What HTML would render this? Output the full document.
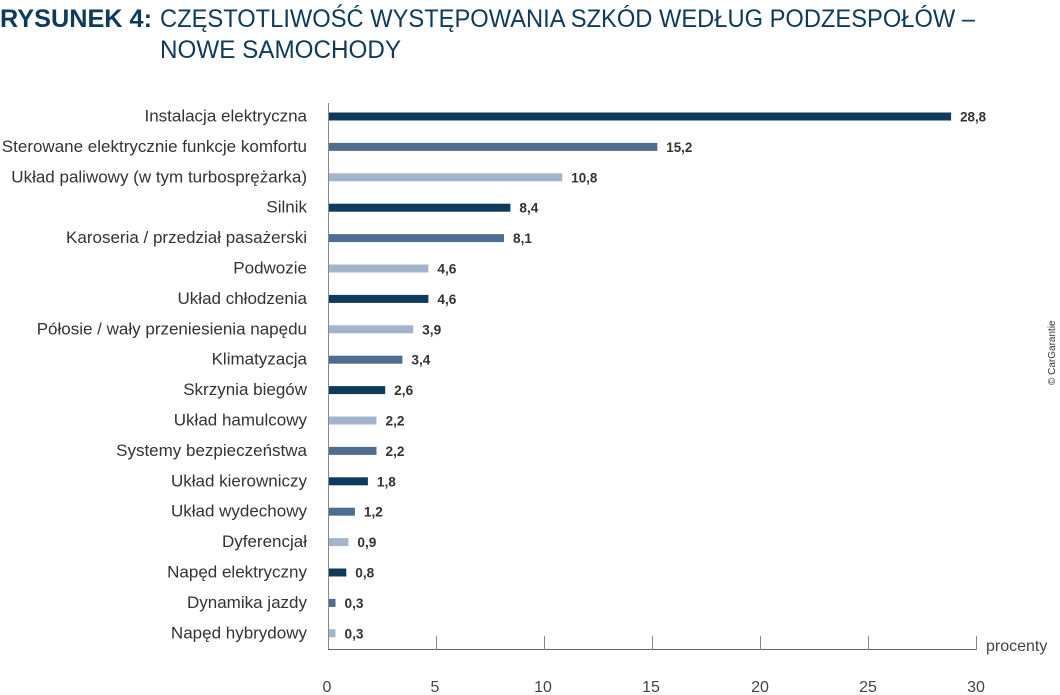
<!DOCTYPE html>
<html><head><meta charset="utf-8"><style>
html,body{margin:0;padding:0;background:#fff;}
svg{display:block;}
</style></head><body>
<svg width="1060" height="695" xmlns="http://www.w3.org/2000/svg" font-family="Liberation Sans, sans-serif">
<text x="0" y="27" font-size="25" font-weight="bold" fill="#0e3a5c" textLength="152" lengthAdjust="spacingAndGlyphs">RYSUNEK 4:</text>
<text x="160" y="27" font-size="25" fill="#0e3a5c" textLength="815" lengthAdjust="spacingAndGlyphs">CZĘSTOTLIWOŚĆ WYSTĘPOWANIA SZKÓD WEDŁUG PODZESPOŁÓW –</text>
<text x="160" y="58" font-size="25" fill="#0e3a5c" textLength="241" lengthAdjust="spacingAndGlyphs">NOWE SAMOCHODY</text>
<line x1="328.5" y1="103" x2="328.5" y2="650" stroke="#888" stroke-width="1"/>
<line x1="328" y1="649.5" x2="976" y2="649.5" stroke="#666" stroke-width="1"/>
<g stroke="#888" stroke-width="1">
<line x1="436.5" y1="636" x2="436.5" y2="650"/><line x1="544.5" y1="636" x2="544.5" y2="650"/>
<line x1="652.5" y1="636" x2="652.5" y2="650"/><line x1="760.5" y1="636" x2="760.5" y2="650"/>
<line x1="868.5" y1="636" x2="868.5" y2="650"/><line x1="976.5" y1="636" x2="976.5" y2="650"/>
</g>
<g font-size="16" fill="#444" text-anchor="middle">
<text x="327" y="692">0</text><text x="435" y="692">5</text><text x="543" y="692">10</text>
<text x="651" y="692">15</text><text x="760" y="692">20</text><text x="868" y="692">25</text><text x="976" y="692">30</text>
</g>
<text x="986" y="651" font-size="16" fill="#444">procenty</text>
<text transform="translate(1055,385) rotate(-90)" font-size="10" fill="#333">© CarGarantie</text>

<g font-size="17" fill="#333" text-anchor="end">
<text x="307" y="121.5">Instalacja elektryczna</text>
<text x="307" y="151.9">Sterowane elektrycznie funkcje komfortu</text>
<text x="307" y="182.3">Układ paliwowy (w tym turbosprężarka)</text>
<text x="307" y="212.7">Silnik</text>
<text x="307" y="243.1">Karoseria / przedział pasażerski</text>
<text x="307" y="273.5">Podwozie</text>
<text x="307" y="303.9">Układ chłodzenia</text>
<text x="307" y="334.3">Półosie / wały przeniesienia napędu</text>
<text x="307" y="364.7">Klimatyzacja</text>
<text x="307" y="395.1">Skrzynia biegów</text>
<text x="307" y="425.5">Układ hamulcowy</text>
<text x="307" y="455.9">Systemy bezpieczeństwa</text>
<text x="307" y="486.3">Układ kierowniczy</text>
<text x="307" y="516.7">Układ wydechowy</text>
<text x="307" y="547.1">Dyferencjał</text>
<text x="307" y="577.5">Napęd elektryczny</text>
<text x="307" y="607.9">Dynamika jazdy</text>
<text x="307" y="638.3">Napęd hybrydowy</text>
</g>

<rect x="329" y="112.5" width="622.1" height="8" fill="#0e3a5c"/>
<rect x="329" y="142.9" width="328.3" height="8" fill="#4d6e91"/>
<rect x="329" y="173.3" width="233.3" height="8" fill="#a3b4cb"/>
<rect x="329" y="203.7" width="181.4" height="8" fill="#0e3a5c"/>
<rect x="329" y="234.1" width="175.0" height="8" fill="#4d6e91"/>
<rect x="329" y="264.5" width="99.4" height="8" fill="#a3b4cb"/>
<rect x="329" y="294.9" width="99.4" height="8" fill="#0e3a5c"/>
<rect x="329" y="325.3" width="84.2" height="8" fill="#a3b4cb"/>
<rect x="329" y="355.7" width="73.4" height="8" fill="#4d6e91"/>
<rect x="329" y="386.1" width="56.2" height="8" fill="#0e3a5c"/>
<rect x="329" y="416.5" width="47.5" height="8" fill="#a3b4cb"/>
<rect x="329" y="446.9" width="47.5" height="8" fill="#4d6e91"/>
<rect x="329" y="477.3" width="38.9" height="8" fill="#0e3a5c"/>
<rect x="329" y="507.7" width="25.9" height="8" fill="#4d6e91"/>
<rect x="329" y="538.1" width="19.4" height="8" fill="#a3b4cb"/>
<rect x="329" y="568.5" width="17.3" height="8" fill="#0e3a5c"/>
<rect x="329" y="598.9" width="6.5" height="8" fill="#4d6e91"/>
<rect x="329" y="629.3" width="6.5" height="8" fill="#a3b4cb"/>

<g font-size="13.5" font-weight="bold" fill="#333">
<text x="960.1" y="121.5" textLength="26" lengthAdjust="spacingAndGlyphs">28,8</text>
<text x="666.3" y="151.9" textLength="26" lengthAdjust="spacingAndGlyphs">15,2</text>
<text x="571.3" y="182.3" textLength="26" lengthAdjust="spacingAndGlyphs">10,8</text>
<text x="519.4" y="212.7" textLength="19" lengthAdjust="spacingAndGlyphs">8,4</text>
<text x="513" y="243.1" textLength="19" lengthAdjust="spacingAndGlyphs">8,1</text>
<text x="437.4" y="273.5" textLength="19" lengthAdjust="spacingAndGlyphs">4,6</text>
<text x="437.4" y="303.9" textLength="19" lengthAdjust="spacingAndGlyphs">4,6</text>
<text x="422.2" y="334.3" textLength="19" lengthAdjust="spacingAndGlyphs">3,9</text>
<text x="411.4" y="364.7" textLength="19" lengthAdjust="spacingAndGlyphs">3,4</text>
<text x="394.2" y="395.1" textLength="19" lengthAdjust="spacingAndGlyphs">2,6</text>
<text x="385.5" y="425.5" textLength="19" lengthAdjust="spacingAndGlyphs">2,2</text>
<text x="385.5" y="455.9" textLength="19" lengthAdjust="spacingAndGlyphs">2,2</text>
<text x="376.9" y="486.3" textLength="19" lengthAdjust="spacingAndGlyphs">1,8</text>
<text x="363.9" y="516.7" textLength="19" lengthAdjust="spacingAndGlyphs">1,2</text>
<text x="357.4" y="547.1" textLength="19" lengthAdjust="spacingAndGlyphs">0,9</text>
<text x="355.3" y="577.5" textLength="19" lengthAdjust="spacingAndGlyphs">0,8</text>
<text x="344.5" y="607.9" textLength="19" lengthAdjust="spacingAndGlyphs">0,3</text>
<text x="344.5" y="638.3" textLength="19" lengthAdjust="spacingAndGlyphs">0,3</text>
</g>
</svg>
</body></html>
